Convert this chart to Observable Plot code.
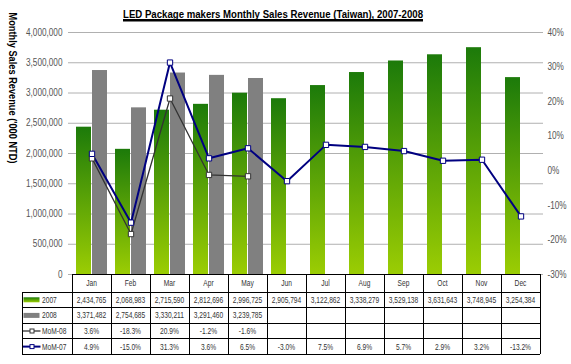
<!DOCTYPE html>
<html>
<head>
<meta charset="utf-8">
<script src="https://cdn.jsdelivr.net/npm/d3@7"></script>
<script src="https://cdn.jsdelivr.net/npm/@observablehq/plot@0.6"></script>
<style>
  html, body { margin: 0; padding: 0; background: #fff; }
  #chart svg { display: block; }
</style>
</head>
<body>
<div id="chart"></div>
<script>
// ---- data ----
const months = ["Jan", "Feb", "Mar", "Apr", "May", "Jun", "Jul", "Aug", "Sep", "Oct", "Nov", "Dec"];
const rev2007 = [2434765, 2068983, 2715590, 2812696, 2996725, 2905794, 3122862, 3338279, 3529138, 3631643, 3748945, 3254384];
const rev2008 = [3371482, 2754685, 3330211, 3291460, 3239785];
const mom08 = [3.6, -18.3, 20.9, -1.2, -1.6];
const mom07 = [4.9, -15.0, 31.3, 3.6, 6.5, -3.0, 7.5, 6.9, 5.7, 2.9, 3.2, -13.2];
const leftTicks = [0, 500000, 1000000, 1500000, 2000000, 2500000, 3000000, 3500000, 4000000];
const rightTicks = [-30, -20, -10, 0, 10, 20, 30, 40];
const seriesNames = ["2007", "2008", "MoM-08", "MoM-07"];
const title = "LED Package makers Monthly Sales Revenue (Taiwan), 2007-2008";
const yTitle = "Monthly Sales Revenue ('000 NTD)";

// ---- helpers ----
const revMax = 4000000, pctMin = -30, pctMax = 40;
const pctToRev = p => (p - pctMin) / (pctMax - pctMin) * revMax;
const revToPct = v => Math.round(v / revMax * (pctMax - pctMin) + pctMin);
const fmtRev = d3.format(",");
const fmtPct = p => p.toFixed(1) + "%";

const d07 = months.map((m, i) => ({month: m, value: rev2007[i]}));
const d08 = rev2008.map((v, i) => ({month: months[i], value: v}));
const m08 = mom08.map((p, i) => ({month: months[i], pct: p, y: pctToRev(p)}));
const m07 = mom07.map((p, i) => ({month: months[i], pct: p, y: pctToRev(p)}));

const FONT = "'Liberation Sans', Arial, sans-serif";
const GREEN = "url(#g07)";
const GRAY = "#808080";
const NAVY = "#000080";
const DARK = "#333333";

const chart = Plot.plot({
  width: 571,
  height: 364,
  marginLeft: 68,
  marginRight: 28,
  marginTop: 32,
  marginBottom: 90,
  style: {fontFamily: FONT, fontSize: "10px", color: "#444", background: "#fff"},
  x: {domain: months, padding: 0, axis: null},
  y: {domain: [0, revMax], axis: null},
  marks: [
    Plot.gridY(leftTicks, {stroke: "#b0b0b0", strokeOpacity: 1}),
    Plot.axisY(leftTicks, {anchor: "left", tickSize: 0, tickPadding: 6, tickFormat: fmtRev, label: null, fill: "#555"}),
    Plot.axisY(rightTicks.map(pctToRev), {anchor: "right", tickSize: 0, tickPadding: 4, tickFormat: d => revToPct(d) + "%", label: null, fill: "#555"}),
    Plot.barY(d07, {x: "month", y: "value", fill: GREEN, insetLeft: 4, insetRight: 20}),
    Plot.barY(d08, {x: "month", y: "value", fill: GRAY, insetLeft: 20, insetRight: 4}),
    Plot.line(m08, {x: "month", y: "y", stroke: DARK, strokeWidth: 1.3}),
    Plot.line(m07, {x: "month", y: "y", stroke: NAVY, strokeWidth: 2}),
    Plot.dot(m08, {x: "month", y: "y", symbol: "square", r: 3, fill: "white", stroke: DARK, strokeWidth: 1}),
    Plot.dot(m07, {x: "month", y: "y", symbol: "square", r: 3, fill: "white", stroke: NAVY, strokeWidth: 1})
  ]
});

document.getElementById("chart").appendChild(chart);

const svg = d3.select(chart);
const defs = svg.insert("defs", ":first-child");
const grad = defs.append("linearGradient").attr("id", "g07")
  .attr("x1", 0).attr("y1", 0).attr("x2", 0).attr("y2", 1);
grad.append("stop").attr("offset", "0%").attr("stop-color", "#1c7a0a");
grad.append("stop").attr("offset", "100%").attr("stop-color", "#9bcd03");

// condense existing axis texts (narrow font look)
function condense(sel, factor) {
  sel.each(function () {
    const len = this.getComputedTextLength();
    if (len > 0) {
      this.setAttribute("textLength", (len * factor).toFixed(2));
      this.setAttribute("lengthAdjust", "spacingAndGlyphs");
    }
  });
}
condense(svg.selectAll("g[aria-label='y-axis tick label'] text"), 0.82);

// title
const titleText = svg.append("text")
  .attr("x", 273).attr("y", 17.5)
  .attr("text-anchor", "middle")
  .attr("font-family", FONT)
  .attr("font-weight", "bold")
  .attr("font-size", "11.5px")
  .attr("fill", "#000")
  .attr("textLength", 300)
  .attr("lengthAdjust", "spacingAndGlyphs")
  .text(title);
svg.append("rect").attr("x", 273 - 150).attr("y", 19).attr("width", 300).attr("height", 2.5).attr("fill", "#000");

// y axis title (reads top to bottom)
svg.append("text")
  .attr("transform", "translate(9,88) rotate(90)")
  .attr("text-anchor", "middle")
  .attr("font-family", FONT)
  .attr("font-weight", "bold")
  .attr("font-size", "10px")
  .attr("fill", "#000")
  .attr("textLength", 151)
  .attr("lengthAdjust", "spacingAndGlyphs")
  .text(yTitle);

// ---- data table under the chart, columns from the x scale ----
const xs = chart.scale("x");
const bw = xs.bandwidth;
const colX = m => xs.apply(m);
const left = colX(months[0]);
const right = colX(months[months.length - 1]) + bw;
const legLeft = 22;
const rowTops = [274, 292, 307.6, 323.2, 338.8, 354.4];
const tbl = svg.append("g").attr("font-family", FONT).attr("font-size", "8.5px").attr("fill", "#333");

// header month labels
months.forEach(m => {
  tbl.append("text").attr("x", colX(m) + bw / 2).attr("y", (rowTops[0] + rowTops[1]) / 2 + 3)
    .attr("text-anchor", "middle").text(m);
});

const rowsText = [
  months.map((m, i) => rev2007[i] != null ? fmtRev(rev2007[i]) : ""),
  months.map((m, i) => rev2008[i] != null ? fmtRev(rev2008[i]) : ""),
  months.map((m, i) => mom08[i] != null ? fmtPct(mom08[i]) : ""),
  months.map((m, i) => mom07[i] != null ? fmtPct(mom07[i]) : "")
];
rowsText.forEach((row, r) => {
  const yc = (rowTops[r + 1] + rowTops[r + 2]) / 2;
  row.forEach((t, i) => {
    if (!t) return;
    tbl.append("text").attr("x", colX(months[i]) + bw / 2).attr("y", yc + 3)
      .attr("text-anchor", "middle").text(t);
  });
  // legend keys
  const kx = legLeft + 1.5;
  if (r === 0 || r === 1) {
    tbl.append("rect").attr("x", kx).attr("y", yc - 2.5).attr("width", 16).attr("height", 5)
      .attr("fill", r === 0 ? GREEN : GRAY);
  } else {
    const c = r === 2 ? DARK : NAVY;
    tbl.append("line").attr("x1", kx - 1).attr("x2", kx + 17).attr("y1", yc).attr("y2", yc)
      .attr("stroke", c).attr("stroke-width", r === 2 ? 1.3 : 2);
    tbl.append("rect").attr("x", kx + 6.5).attr("y", yc - 2).attr("width", 4).attr("height", 4)
      .attr("fill", "white").attr("stroke", c).attr("stroke-width", 1);
  }
  tbl.append("text").attr("x", kx + 18.5).attr("y", yc + 3).attr("text-anchor", "start").text(seriesNames[r]);
});
condense(tbl.selectAll("text"), 0.78);

// table lines
const lines = svg.append("g").attr("stroke", "#000").attr("stroke-width", 1).attr("shape-rendering", "crispEdges");
lines.append("line").attr("x1", left).attr("x2", right).attr("y1", rowTops[0]).attr("y2", rowTops[0]);
for (let r = 1; r < rowTops.length; r++) {
  lines.append("line").attr("x1", legLeft).attr("x2", right).attr("y1", rowTops[r]).attr("y2", rowTops[r]);
}
months.forEach(m => {
  lines.append("line").attr("x1", colX(m)).attr("x2", colX(m)).attr("y1", rowTops[0]).attr("y2", rowTops[rowTops.length - 1]);
});
lines.append("line").attr("x1", right).attr("x2", right).attr("y1", rowTops[0]).attr("y2", rowTops[rowTops.length - 1]);
lines.append("line").attr("x1", legLeft).attr("x2", legLeft).attr("y1", rowTops[1]).attr("y2", rowTops[rowTops.length - 1]);
</script>
</body>
</html>
